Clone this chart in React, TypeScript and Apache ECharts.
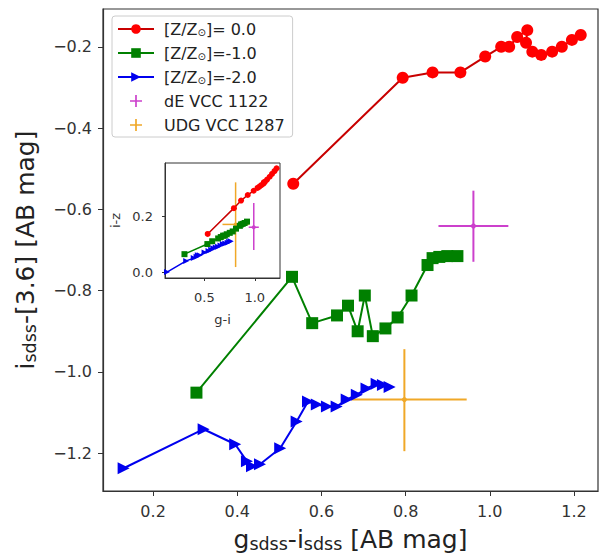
import React, { useEffect, useRef } from "react";
import * as echarts from "echarts";

// Main panel: g-i vs i-[3.6]
const redGI = [0.533, 0.793, 0.864, 0.93, 0.989, 1.027, 1.046, 1.065, 1.089, 1.086, 1.101, 1.122, 1.148, 1.171, 1.195, 1.216];
const redI36 = [-0.537, -0.276, -0.263, -0.263, -0.224, -0.2, -0.2, -0.176, -0.159, -0.19, -0.212, -0.22, -0.212, -0.2, -0.183, -0.171];

const greenGI = [0.303, 0.53, 0.578, 0.637, 0.663, 0.686, 0.703, 0.722, 0.752, 0.781, 0.814, 0.852, 0.864, 0.88, 0.899, 0.923];
const greenI36 = [-1.051, -0.766, -0.88, -0.861, -0.837, -0.9, -0.812, -0.912, -0.893, -0.866, -0.812, -0.737, -0.72, -0.717, -0.715, -0.715];

const blueGI = [0.13, 0.32, 0.395, 0.423, 0.435, 0.454, 0.502, 0.541, 0.568, 0.589, 0.613, 0.636, 0.66, 0.684, 0.707, 0.731, 0.746, 0.762];
const blueI36 = [-1.237, -1.141, -1.178, -1.22, -1.232, -1.227, -1.188, -1.122, -1.073, -1.08, -1.085, -1.085, -1.068, -1.056, -1.041, -1.029, -1.032, -1.037];

// Inset: g-i vs i-z
const redIZ = [0.136, 0.228, 0.255, 0.275, 0.29, 0.3, 0.305, 0.31, 0.32, 0.315, 0.322, 0.33, 0.34, 0.35, 0.36, 0.37];
const greenIZ = [0.064, 0.1, 0.11, 0.12, 0.125, 0.13, 0.13, 0.135, 0.14, 0.145, 0.155, 0.165, 0.17, 0.172, 0.175, 0.18];
const blueIZ = [0.0, 0.04, 0.05, 0.055, 0.06, 0.06, 0.07, 0.075, 0.08, 0.085, 0.088, 0.09, 0.095, 0.1, 0.102, 0.105, 0.108, 0.11];

// Error-bar objects: [x, y, xlo, xhi, ylo, yhi]
const dEMain = [0.961, -0.641, 0.878, 1.044, -0.729, -0.554];
const udgMain = [0.797, -1.068, 0.672, 0.945, -1.195, -0.944];
const dEInset = [0.99, 0.16, 0.94, 1.04, 0.079, 0.246];
const udgInset = [0.81, 0.17, 0.68, 0.94, 0.018, 0.32];

const mainXTicks = [0.2, 0.4, 0.6, 0.8, 1.0, 1.2];
const mainYTicks = [-1.2, -1.0, -0.8, -0.6, -0.4, -0.2];
const insetXTicks = [0.5, 1.0];
const insetYTicks = [0.0, 0.2];

const names = {
  z0: "[Z/Z⊙]= 0.0",
  z1: "[Z/Z⊙]=-1.0",
  z2: "[Z/Z⊙]=-2.0",
  dE: "dE VCC 1122",
  udg: "UDG VCC 1287",
};

const RED = "#ff0000";
const RED_LINE = "#c80000";
const GREEN = "#008000";
const BLUE = "#0000ee";
const MAGENTA = "#cc40cc";
const ORANGE = "#f0a828";
const FRAME = "#333333";
const FONT = "DejaVu Sans";

const fmt = (v: number) => v.toFixed(1).replace("-", "\u2212");

function zip(a: number[], b: number[]) {
  return a.map((v, i) => [v, b[i]]);
}

function errRender(color: string, lw: number) {
  return (params: any, api: any) => {
    const c = api.coord([api.value(0), api.value(1)]);
    const l = api.coord([api.value(2), api.value(1)]);
    const r = api.coord([api.value(3), api.value(1)]);
    const b = api.coord([api.value(0), api.value(4)]);
    const t = api.coord([api.value(0), api.value(5)]);
    return {
      type: "group",
      children: [
        { type: "line", shape: { x1: l[0], y1: l[1], x2: r[0], y2: r[1] }, style: { stroke: color, lineWidth: lw } },
        { type: "line", shape: { x1: b[0], y1: b[1], x2: t[0], y2: t[1] }, style: { stroke: color, lineWidth: lw } },
        { type: "circle", shape: { cx: c[0], cy: c[1], r: lw + 0.5 }, style: { fill: color } },
      ],
    };
  };
}

const plusIcon = "path://M4.3,0H5.7V4.3H10V5.7H5.7V10H4.3V5.7H0V4.3H4.3Z";

const titleRich = {
  n: { fontSize: 25, color: "#222", fontFamily: FONT },
  s: { fontSize: 17.5, color: "#222", fontFamily: FONT, padding: [9, 0, 0, 0] },
};

export default function App() {
  const ref = useRef<HTMLDivElement>(null);
  useEffect(() => {
    if (!ref.current) return;
    const chart = echarts.init(ref.current, null, { renderer: "svg" });
    const axisCommon = {
      axisLine: { show: true, onZero: false, lineStyle: { color: FRAME, width: 1.2 } },
      axisTick: { show: true, inside: false, length: 5, lineStyle: { color: FRAME } },
      splitLine: { show: false },
    };
    const option: any = {
      animation: false,
      backgroundColor: "#ffffff",
      textStyle: { fontFamily: FONT },
      grid: [
        { left: 103, top: 9, width: 495, height: 484, show: true, borderColor: FRAME, borderWidth: 1.2, backgroundColor: "#fff" },
        { left: 165, top: 163, width: 115, height: 115, show: true, borderColor: FRAME, borderWidth: 1, backgroundColor: "#fff", z: 5 },
      ],
      xAxis: [
        {
          type: "value", gridIndex: 0, min: 0.081, max: 1.257,
          ...axisCommon,
          axisTick: { ...axisCommon.axisTick, customValues: mainXTicks },
          axisLabel: { customValues: mainXTicks, formatter: fmt, fontSize: 16, color: "#333", margin: 12, fontFamily: FONT },
          name: "{n|g}{s|sdss}{n|-i}{s|sdss}{n| [AB mag]}",
          nameLocation: "middle",
          nameGap: 35,
          nameTextStyle: { rich: titleRich },
        },
        {
          type: "value", gridIndex: 1, min: 0.11, max: 1.25, z: 6,
          ...axisCommon,
          axisLine: { ...axisCommon.axisLine, lineStyle: { color: FRAME, width: 1 } },
          axisTick: { ...axisCommon.axisTick, length: 3, customValues: insetXTicks },
          axisLabel: { customValues: insetXTicks, formatter: fmt, fontSize: 13, color: "#333", margin: 13, fontFamily: FONT },
          name: "g-i", nameLocation: "middle", nameGap: 35,
          nameTextStyle: { fontSize: 13, color: "#333", fontFamily: FONT },
        },
      ],
      yAxis: [
        {
          type: "value", gridIndex: 0, min: -1.293, max: -0.107,
          ...axisCommon,
          axisTick: { ...axisCommon.axisTick, customValues: mainYTicks },
          axisLabel: { customValues: mainYTicks, formatter: fmt, fontSize: 16, color: "#333", margin: 11, fontFamily: FONT },
          name: "{n|i}{s|sdss}{n|-[3.6] [AB mag]}",
          nameLocation: "middle",
          nameGap: 64,
          nameRotate: 90,
          nameTextStyle: { rich: titleRich },
        },
        {
          type: "value", gridIndex: 1, min: -0.021, max: 0.389, z: 6,
          ...axisCommon,
          axisLine: { ...axisCommon.axisLine, lineStyle: { color: FRAME, width: 1 } },
          axisTick: { ...axisCommon.axisTick, length: 3, customValues: insetYTicks },
          axisLabel: { customValues: insetYTicks, formatter: fmt, fontSize: 13, color: "#333", margin: 12, fontFamily: FONT },
          name: "i-z", nameLocation: "middle", nameGap: 43, nameRotate: 90,
          nameTextStyle: { fontSize: 13, color: "#333", fontFamily: FONT },
        },
      ],
      legend: {
        orient: "vertical",
        left: 112,
        top: 16,
        padding: [5, 8, 4, 5],
        itemGap: 8,
        itemWidth: 36,
        itemHeight: 12,
        backgroundColor: "rgba(255,255,255,0.9)",
        borderColor: "#cccccc",
        borderWidth: 1,
        borderRadius: 3,
        z: 10,
        data: [
          { name: names.z0 },
          { name: names.z1 },
          { name: names.z2 },
          { name: names.dE, icon: plusIcon, itemStyle: { color: MAGENTA } },
          { name: names.udg, icon: plusIcon, itemStyle: { color: ORANGE } },
        ],
        formatter: (n: string) => {
          if (n.startsWith("[Z/Z")) {
            const rest = n.slice(n.indexOf("]"));
            return "{g| }{t|[Z/Z}{s|⊙}{t|" + rest + "}";
          }
          return "{g| }{t|" + n + "}";
        },
        textStyle: {
          fontSize: 16,
          color: "#222",
          fontFamily: FONT,
          rich: {
            g: { width: 5, fontSize: 16, lineHeight: 19 },
            t: { fontSize: 16, color: "#222", fontFamily: FONT, lineHeight: 19 },
            s: { fontSize: 10, color: "#222", fontFamily: FONT, padding: [6, 0, 0, 0] },
          },
        },
      },
      series: [
        {
          name: names.z0, type: "line", xAxisIndex: 0, yAxisIndex: 0,
          data: zip(redGI, redI36), symbol: "circle", symbolSize: 12,
          itemStyle: { color: RED }, lineStyle: { color: RED_LINE, width: 2 }, z: 3,
        },
        {
          name: names.z1, type: "line", xAxisIndex: 0, yAxisIndex: 0,
          data: zip(greenGI, greenI36), symbol: "rect", symbolSize: 12,
          itemStyle: { color: GREEN }, lineStyle: { color: GREEN, width: 2 }, z: 3,
        },
        {
          name: names.z2, type: "line", xAxisIndex: 0, yAxisIndex: 0,
          data: zip(blueGI, blueI36), symbol: "triangle", symbolRotate: -90, symbolSize: 12,
          itemStyle: { color: BLUE }, lineStyle: { color: BLUE, width: 2 }, z: 3,
        },
        {
          name: names.dE, type: "custom", xAxisIndex: 0, yAxisIndex: 0,
          renderItem: errRender(MAGENTA, 2), data: [dEMain], itemStyle: { color: MAGENTA }, z: 3,
        },
        {
          name: names.udg, type: "custom", xAxisIndex: 0, yAxisIndex: 0,
          renderItem: errRender(ORANGE, 2), data: [udgMain], itemStyle: { color: ORANGE }, z: 2,
        },
        // inset
        {
          name: names.z0, type: "line", xAxisIndex: 1, yAxisIndex: 1,
          data: zip(redGI, redIZ), symbol: "circle", symbolSize: 6,
          itemStyle: { color: RED }, lineStyle: { color: RED_LINE, width: 1.5 }, z: 7,
        },
        {
          name: names.z1, type: "line", xAxisIndex: 1, yAxisIndex: 1,
          data: zip(greenGI, greenIZ), symbol: "rect", symbolSize: 6,
          itemStyle: { color: GREEN }, lineStyle: { color: GREEN, width: 1.5 }, z: 7,
        },
        {
          name: names.z2, type: "line", xAxisIndex: 1, yAxisIndex: 1,
          data: zip(blueGI, blueIZ), symbol: "triangle", symbolRotate: -90, symbolSize: 6,
          itemStyle: { color: BLUE }, lineStyle: { color: BLUE, width: 1.5 }, z: 7,
        },
        {
          name: names.udg, type: "custom", xAxisIndex: 1, yAxisIndex: 1,
          renderItem: errRender(ORANGE, 1.5), data: [udgInset], itemStyle: { color: ORANGE }, z: 6,
        },
        {
          name: names.dE, type: "custom", xAxisIndex: 1, yAxisIndex: 1,
          renderItem: errRender(MAGENTA, 1.5), data: [dEInset], itemStyle: { color: MAGENTA }, z: 8,
        },
      ],
    };
    chart.setOption(option);
    return () => chart.dispose();
  }, []);
  return <div ref={ref} style={{ width: 600, height: 558, position: "absolute", left: 0, top: 0 }} />;
}
